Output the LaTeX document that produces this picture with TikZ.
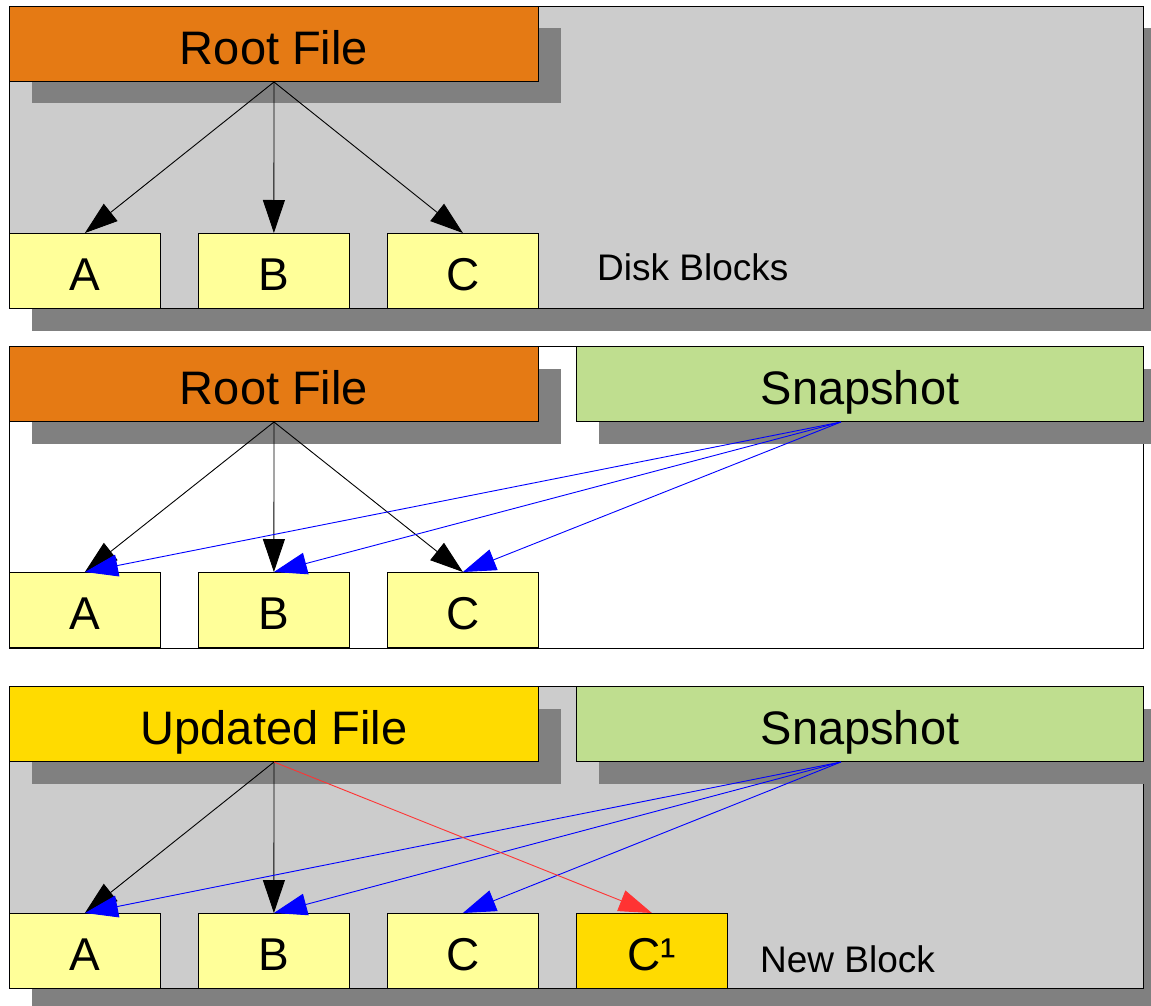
\documentclass[tikz,border=0pt]{standalone}
\usepackage{fontspec}
\setmainfont{Liberation Sans}
\usetikzlibrary{arrows.meta,shadows,calc}
\definecolor{panelgray}{HTML}{CCCCCC}
\definecolor{shadowgray}{HTML}{808080}
\definecolor{rootorange}{HTML}{E57A14}
\definecolor{snapgreen}{HTML}{BFDE8F}
\definecolor{blockyellow}{HTML}{FFFF99}
\definecolor{newgold}{HTML}{FFDB00}
\definecolor{linkblue}{HTML}{0000FF}
\definecolor{linkred}{HTML}{FF3333}
\begin{document}
\begin{tikzpicture}[x=1pt,y=-1pt,
  shade box/.style={drop shadow={shadow xshift=22pt,shadow yshift=-22pt,fill=shadowgray,opacity=1}},
  panel/.style={draw=black,line width=1pt,anchor=north west,inner sep=0pt,
    minimum width=1134pt,minimum height=302pt},
  filebox/.style={draw=black,line width=1pt,anchor=north west,inner sep=0pt,
    minimum width=529pt,minimum height=75pt,text height=41pt,text depth=0pt,
    font=\fontsize{47}{56}\selectfont,shade box},
  snapbox/.style={filebox,fill=snapgreen,minimum width=567pt},
  block/.style={draw=black,line width=0.8pt,anchor=north west,inner sep=0pt,
    minimum width=151pt,minimum height=75pt,fill=blockyellow,
    text height=39pt,text depth=0pt,font=\fontsize{46}{55}\selectfont},
  link/.style={line width=0.9pt,-{Triangle[length=33pt,width=22pt]}},
  note/.style={anchor=base west,inner sep=0pt,font=\fontsize{37}{44}\selectfont}]

\useasboundingbox (0,0) rectangle (1151,1006);
\clip (0,0) rectangle (1151,1006);

% ---- original file on disk ----
\node[panel,fill=panelgray,shade box] (disk) at (9,6) {};
\node[filebox,fill=rootorange] (root1) at (9,6) {Root File};
\node[block] (a1) at (9,233) {A};
\node[block] (b1) at (198,233) {B};
\node[block] (c1) at (387,233) {C};
\node[note] (disklabel) at (597,280) {Disk Blocks};
\draw[link] (root1.south) -- (a1.north);
\draw[link] (root1.south) -- (b1.north);
\draw[link] (root1.south) -- (c1.north);

% ---- snapshot sharing the same blocks ----
\node[panel,fill=white] (snapview) at (9,346) {};
\node[filebox,fill=rootorange] (root2) at (9,346) {Root File};
\node[snapbox] (snap2) at (576,346) {Snapshot};
\node[block] (a2) at (9,572) {A};
\node[block] (b2) at (198,572) {B};
\node[block] (c2) at (387,572) {C};
\coordinate (s2) at ($(snap2.south)+(-19,0)$);
\draw[link] (root2.south) -- (a2.north);
\draw[link] (root2.south) -- (b2.north);
\draw[link] (root2.south) -- (c2.north);
\draw[link,linkblue] (s2) -- (a2.north);
\draw[link,linkblue] (s2) -- (b2.north);
\draw[link,linkblue] (s2) -- (c2.north);

% ---- file updated after the snapshot ----
\node[panel,fill=panelgray,shade box] (newview) at (9,686) {};
\node[filebox,fill=newgold] (upd) at (9,686) {Updated File};
\node[snapbox] (snap3) at (576,686) {Snapshot};
\node[block] (a3) at (9,913) {A};
\node[block] (b3) at (198,913) {B};
\node[block] (c3) at (387,913) {C};
\node[block,fill=newgold] (cnew) at (576,913) {C¹};
\node[note] (newlabel) at (760,972) {New Block};
\coordinate (s3) at ($(snap3.south)+(-19,0)$);
\draw[link] (upd.south) -- (a3.north);
\draw[link] (upd.south) -- (b3.north);
\draw[link,linkblue] (s3) -- (a3.north);
\draw[link,linkblue] (s3) -- (b3.north);
\draw[link,linkblue] (s3) -- (c3.north);
\draw[link,linkred] (upd.south) -- (cnew.north);
\end{tikzpicture}
\end{document}
